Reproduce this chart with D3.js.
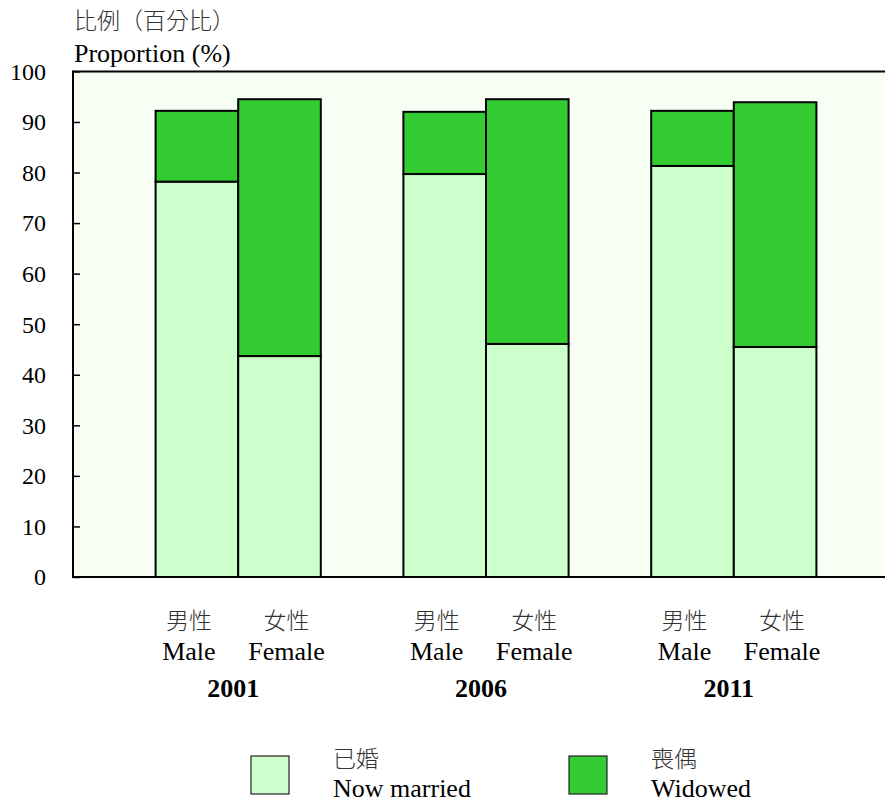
<!DOCTYPE html>
<html>
<head>
<meta charset="utf-8">
<script src="https://cdn.jsdelivr.net/npm/d3@7"></script>
<style>
  body { margin: 0; background: #fff; }
  svg { display: block; }
  .serif { font-family: "Liberation Serif", "Times New Roman", serif; fill: #000; }
  .cjk { font-family: "Noto Sans CJK TC", "Noto Sans CJK SC", sans-serif; font-weight: 300; fill: #333; }
</style>
</head>
<body>
<svg id="chart" width="885" height="804"></svg>
<script>
// Census years and sexes
const years = ["2001", "2006", "2011"];
const sexesEn = ["Male", "Female"];
const sexesZh = ["男性", "女性"];

// Proportion (%) by year, ordered [Male, Female]
const nowMarried = [[78.2, 43.7], [79.7, 46.1], [81.3, 45.5]];
const widowed    = [[14.0, 50.8], [12.3, 48.4], [10.9, 48.4]];

const yTicks = [0, 10, 20, 30, 40, 50, 60, 70, 80, 90, 100];

const seriesNames = [
  { zh: "已婚", en: "Now married", color: "#CCFFCC" },
  { zh: "喪偶", en: "Widowed", color: "#33CC33" }
];

const svg = d3.select("#chart");
const margin = { left: 73, top: 71.4, bottom: 577 };
const plotRight = 899;

const y = d3.scaleLinear().domain([0, 100]).range([margin.bottom, margin.top]);
const xGroup = d3.scaleBand().domain(years).range([margin.left, plotRight])
  .paddingInner(1 / 3).paddingOuter(1 / 3);
const xSex = d3.scaleBand().domain(sexesEn).range([0, xGroup.bandwidth()]);

// plot background
svg.append("rect")
  .attr("x", margin.left).attr("y", y(100))
  .attr("width", plotRight - margin.left).attr("height", y(0) - y(100))
  .attr("fill", "#F7FFF5");

// top border
svg.append("line")
  .attr("x1", margin.left).attr("x2", plotRight)
  .attr("y1", y(100)).attr("y2", y(100))
  .attr("stroke", "#000").attr("stroke-width", 2);

// stacked bars
const rows = [];
years.forEach((yr, i) => {
  sexesEn.forEach((s, j) => {
    const m = nowMarried[i][j], w = widowed[i][j];
    rows.push({ yr, s, y0: 0, y1: m, color: seriesNames[0].color });
    rows.push({ yr, s, y0: m, y1: m + w, color: seriesNames[1].color });
  });
});

svg.append("g").selectAll("rect").data(rows).join("rect")
  .attr("x", d => xGroup(d.yr) + xSex(d.s))
  .attr("width", xSex.bandwidth())
  .attr("y", d => y(d.y1))
  .attr("height", d => y(d.y0) - y(d.y1))
  .attr("fill", d => d.color)
  .attr("stroke", "#000").attr("stroke-width", 2);

// y axis with inward ticks
const yAxis = svg.append("g")
  .attr("transform", `translate(${margin.left},0)`)
  .call(d3.axisRight(y).tickValues(yTicks).tickSize(7).tickFormat(""));
yAxis.select(".domain").remove();
yAxis.selectAll(".tick line").attr("stroke", "#000").attr("stroke-width", 1.5);
svg.append("line")
  .attr("x1", margin.left).attr("x2", margin.left)
  .attr("y1", y(100) - 1).attr("y2", y(0) + 1)
  .attr("stroke", "#000").attr("stroke-width", 2);

svg.append("g").selectAll("text").data(yTicks).join("text")
  .attr("class", "serif")
  .attr("x", 46).attr("y", d => y(d))
  .attr("dy", "0.35em")
  .attr("text-anchor", "end")
  .attr("font-size", 24)
  .text(d => d);

// baseline
svg.append("line")
  .attr("x1", margin.left).attr("x2", plotRight)
  .attr("y1", y(0)).attr("y2", y(0))
  .attr("stroke", "#000").attr("stroke-width", 2);

// axis title
svg.append("text").attr("class", "cjk")
  .attr("x", 74).attr("y", 29).attr("font-size", 23).text("比例（百分比）");
svg.append("text").attr("class", "serif")
  .attr("x", 74).attr("y", 62).attr("font-size", 26).text("Proportion (%)");

// category labels
years.forEach(yr => {
  sexesEn.forEach((s, j) => {
    const cx = xGroup(yr) + xSex(s) + xSex.bandwidth() / 2 + (j === 0 ? -8 : 7);
    svg.append("text").attr("class", "cjk")
      .attr("x", cx).attr("y", 629).attr("text-anchor", "middle")
      .attr("font-size", 23).text(sexesZh[j]);
    svg.append("text").attr("class", "serif")
      .attr("x", cx).attr("y", 660).attr("text-anchor", "middle")
      .attr("font-size", 26).text(s);
  });
  svg.append("text").attr("class", "serif")
    .attr("x", xGroup(yr) + xGroup.bandwidth() / 2 - 5).attr("y", 697)
    .attr("text-anchor", "middle").attr("font-size", 26).attr("font-weight", "bold")
    .text(yr);
});

// legend
const legendX = [251, 569];
seriesNames.forEach((d, i) => {
  svg.append("rect")
    .attr("x", legendX[i]).attr("y", 756)
    .attr("width", 38).attr("height", 38)
    .attr("fill", d.color).attr("stroke", "#222").attr("stroke-width", 1.2);
  svg.append("text").attr("class", "cjk")
    .attr("x", legendX[i] + 82).attr("y", 767).attr("font-size", 23).text(d.zh);
  svg.append("text").attr("class", "serif")
    .attr("x", legendX[i] + 82).attr("y", 797).attr("font-size", 26).text(d.en);
});
</script>
</body>
</html>
